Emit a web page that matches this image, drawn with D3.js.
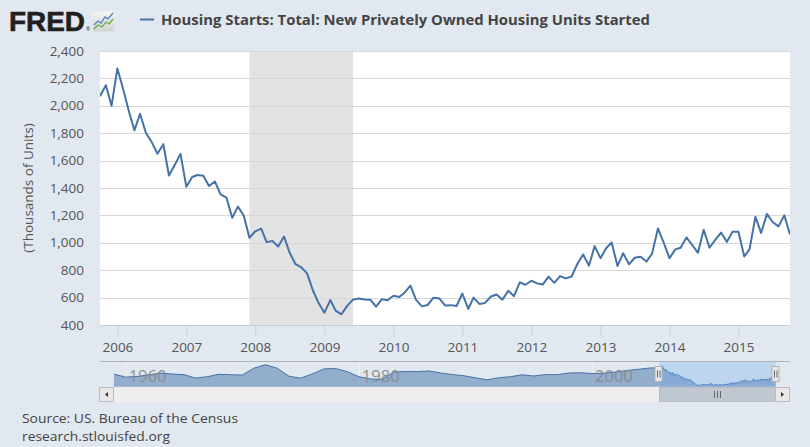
<!DOCTYPE html>
<html><head><meta charset="utf-8">
<script src="https://cdn.jsdelivr.net/npm/d3@7"></script>
<style>
body{margin:0;background:#e1e8f0;}
svg{display:block;font-family:"Open Sans",sans-serif;}
</style>
</head><body>
<svg id="c" width="810" height="447"></svg>
<script>
// ---------- data ----------
const seriesTitle = "Housing Starts: Total: New Privately Owned Housing Units Started";
const yAxisTitle = "(Thousands of Units)";
const firstMonth = "2005-10-01";
// monthly values, Oct 2005 .. Oct 2015 (thousands of units, SAAR)
const startsValues = [
  2070, 2150, 2000,
  2273, 2119, 1969, 1821, 1942, 1802, 1737, 1650, 1720, 1491, 1570, 1649,
  1409, 1480, 1495, 1490, 1415, 1448, 1354, 1330, 1183, 1264, 1197, 1037,
  1084, 1103, 1005, 1013, 973, 1046, 927, 844, 820, 777, 652, 560,
  490, 582, 505, 478, 540, 585, 594, 586, 585, 534, 588, 581,
  614, 604, 636, 687, 583, 536, 546, 599, 594, 543, 545, 539,
  630, 517, 600, 554, 561, 608, 623, 585, 650, 610, 711, 694,
  723, 704, 695, 753, 708, 757, 740, 754, 847, 915, 833, 976,
  888, 962, 1002, 831, 924, 843, 891, 898, 863, 921, 1105, 1003,
  888, 952, 964, 1039, 985, 927, 1095, 964, 1023, 1074, 1007, 1080,
  1080, 900, 954, 1190, 1072, 1211, 1152, 1120, 1200, 1060
];
const yTicks = [400, 600, 800, 1000, 1200, 1400, 1600, 1800, 2000, 2200, 2400];
const xTickYears = [2006, 2007, 2008, 2009, 2010, 2011, 2012, 2013, 2014, 2015];
const recessionStart = "2007-12-01";
const recessionEnd = "2009-06-01";
// navigator: annual values 1959..2005 then the monthly series above
const navYears = [1959,1960,1961,1962,1963,1964,1965,1966,1967,1968,1969,1970,1971,1972,1973,1974,1975,1976,1977,1978,1979,1980,1981,1982,1983,1984,1985,1986,1987,1988,1989,1990,1991,1992,1993,1994,1995,1996,1997,1998,1999,2000,2001,2002,2003,2004,2005];
const navAnnual = [1517,1252,1313,1463,1610,1529,1473,1165,1292,1508,1467,1434,2052,2357,2045,1338,1160,1538,1987,2020,1745,1292,1084,1062,1703,1750,1742,1805,1621,1488,1376,1193,1014,1200,1288,1457,1354,1477,1474,1617,1641,1569,1603,1705,1848,1956,2068];
const navTickYears = [1960, 1980, 2000];
const navSelStart = "2005-10-01";
const navSelEnd = "2015-10-01";
const sourceLines = ["Source: US. Bureau of the Census", "research.stlouisfed.org"];

// ---------- layout ----------
const svg = d3.select("#c");
const P = {l:100, r:790, t:51, b:325};
const parse = d3.timeParse("%Y-%m-%d");
const months = d3.timeMonth.range(parse(firstMonth), d3.timeMonth.offset(parse(firstMonth), startsValues.length));
const data = startsValues.map((v,i)=>({d:months[i], v}));

const x = d3.scaleTime().domain([data[0].d, data[data.length-1].d]).range([P.l, P.r]);
const y = d3.scaleLinear().domain([400, 2400]).range([P.b, P.t]);

// logo
svg.append("text").attr("x",9).attr("y",30.5).attr("font-family","'Liberation Sans',Arial,sans-serif")
  .attr("font-weight",900).attr("font-size",27.5).attr("fill","#231f20").attr("stroke","#231f20").attr("stroke-width",0.6)
  .attr("textLength",76).attr("lengthAdjust","spacingAndGlyphs").text("FRED");
svg.append("text").attr("x",86).attr("y",31).attr("font-size",5).attr("fill","#231f20").text("®");
const defs = svg.append("defs");
const lg = defs.append("linearGradient").attr("id","ig").attr("x1",0).attr("x2",0).attr("y1",0).attr("y2",1);
lg.append("stop").attr("offset","0").attr("stop-color","#f4f4f4");
lg.append("stop").attr("offset","1").attr("stop-color","#d2d2d2");
svg.append("rect").attr("x",92.5).attr("y",11.5).attr("width",22).attr("height",20).attr("rx",2).attr("fill","url(#ig)");
svg.append("polyline").attr("points","94,25 98,21 101,23 105,17 108,19 113,13").attr("fill","none").attr("stroke","#4f7fbf").attr("stroke-width",1.3);
svg.append("polyline").attr("points","94,29 98,25 102,27 106,22 109,24 113,19").attr("fill","none").attr("stroke","#6ab04c").attr("stroke-width",1.3);

// legend / title
svg.append("line").attr("x1",140).attr("x2",154).attr("y1",19.5).attr("y2",19.5).attr("stroke","#4572a7").attr("stroke-width",2);
svg.append("text").attr("x",161).attr("y",24.5).attr("font-size",14.8).attr("font-weight",700).attr("fill","#444")
  .attr("textLength",489).attr("lengthAdjust","spacingAndGlyphs").text(seriesTitle);

// plot background
svg.append("rect").attr("x",P.l).attr("y",P.t).attr("width",P.r-P.l).attr("height",P.b-P.t).attr("fill","#fff");
// recession
svg.append("rect").attr("x",x(parse(recessionStart))).attr("y",P.t)
  .attr("width",x(parse(recessionEnd))-x(parse(recessionStart))).attr("height",P.b-P.t).attr("fill","#e3e3e3");
// gridlines
svg.append("g").selectAll("line").data(yTicks.filter(t=>t>400)).join("line")
  .attr("x1",P.l).attr("x2",P.r).attr("y1",d=>Math.round(y(d))+0.5).attr("y2",d=>Math.round(y(d))+0.5)
  .attr("stroke","#d8d8d8").attr("stroke-width",1);
// y labels
svg.append("g").selectAll("text").data(yTicks).join("text")
  .attr("x",84).attr("y",d=>y(d)+4.5).attr("text-anchor","end").attr("font-size",13.5).attr("fill","#555")
  .text(d=>d3.format(",")(d));
svg.append("text").attr("transform","translate(33,188) rotate(-90)").attr("text-anchor","middle")
  .attr("font-size",13.5).attr("fill","#555").text(yAxisTitle);
// x axis
const xa = svg.append("g").attr("transform",`translate(0,${P.b+0.5})`)
  .call(d3.axisBottom(x).tickValues(xTickYears.map(yr=>new Date(yr,0,1))).tickSize(10).tickPadding(4).tickFormat(d3.timeFormat("%Y")));
xa.select(".domain").attr("stroke","#c0d0e0").attr("d",`M${P.l},0H${P.r}`);
xa.selectAll(".tick line").attr("stroke","#c0d0e0");
xa.selectAll(".tick text").attr("font-size",13.5).attr("fill","#555").attr("font-family","'Open Sans',sans-serif").attr("dy","0.9em");

// line
defs.append("clipPath").attr("id","pc").append("rect").attr("x",P.l).attr("y",P.t-5).attr("width",P.r-P.l).attr("height",P.b-P.t+5);
svg.append("path").datum(data).attr("clip-path","url(#pc)")
  .attr("d",d3.line().x(d=>x(d.d)).y(d=>y(d.v)))
  .attr("fill","none").attr("stroke","#4572a7").attr("stroke-width",2).attr("stroke-linejoin","round");

// ---------- navigator ----------
const N = {l:114, r:775.7, t:362, b:386.7};
const navData = navYears.map((yr,i)=>({d:new Date(yr,0,1), v:navAnnual[i]})).concat(data);
const xn = d3.scaleTime().domain([new Date(1959,0,1), data[data.length-1].d]).range([N.l, N.r]);
const yn = d3.scaleLinear().domain([400, 2600]).range([N.b, N.t]);
svg.append("line").attr("x1",100).attr("x2",790).attr("y1",361.5).attr("y2",361.5).attr("stroke","#b2b1b6");
// nav gridlines
svg.append("g").selectAll("line").data(navTickYears).join("line")
  .attr("x1",d=>Math.round(xn(new Date(d,0,1)))+0.5).attr("x2",d=>Math.round(xn(new Date(d,0,1)))+0.5)
  .attr("y1",362).attr("y2",N.b).attr("stroke","#edf0f4");
svg.append("path").datum(navData)
  .attr("d",d3.area().x(d=>xn(d.d)).y0(N.b).y1(d=>yn(d.v)))
  .attr("fill","rgba(69,114,167,0.5)").attr("stroke","none");
svg.append("path").datum(navData)
  .attr("d",d3.line().x(d=>xn(d.d)).y(d=>yn(d.v)))
  .attr("fill","none").attr("stroke","#4572a7").attr("stroke-width",1);
svg.append("g").selectAll("text").data(navTickYears).join("text")
  .attr("x",d=>xn(new Date(d,0,1))+3).attr("y",382).attr("font-size",16.5).attr("fill","#8a8a8a").attr("opacity",0.9)
  .text(d=>d);
const s0 = xn(parse(navSelStart)), s1 = xn(parse(navSelEnd));
svg.append("rect").attr("x",s0).attr("y",362).attr("width",s1-s0).attr("height",N.b-362).attr("fill","rgba(110,170,240,0.3)");
// handles
[s0, s1].forEach(hx=>{
  const g = svg.append("g").attr("transform",`translate(${Math.round(hx)-0.5},366.5)`);
  g.append("rect").attr("x",-3.5).attr("y",0).attr("width",7).attr("height",15).attr("fill","#ebe7e8").attr("stroke","#b2b1b6");
  g.append("line").attr("x1",-1).attr("x2",-1).attr("y1",4).attr("y2",11).attr("stroke","#666");
  g.append("line").attr("x1",1.5).attr("x2",1.5).attr("y1",4).attr("y2",11).attr("stroke","#666");
});
// scrollbar
svg.append("rect").attr("x",99.5).attr("y",387.5).attr("width",690).attr("height",14).attr("fill","#eeeeee").attr("stroke","#eeeeee");
svg.append("rect").attr("x",Math.round(s0)+0.5).attr("y",387.5).attr("width",Math.round(s1)-Math.round(s0)).attr("height",14)
  .attr("fill","#bfc8d1").attr("stroke","#bbb");
const gx = (s0+s1)/2;
[-3,0,3].forEach(o=>svg.append("line").attr("x1",Math.round(gx+o)+0.5).attr("x2",Math.round(gx+o)+0.5).attr("y1",391).attr("y2",398).attr("stroke","#666"));
// arrow buttons
svg.append("rect").attr("x",99.5).attr("y",387.5).attr("width",14).attr("height",14).attr("fill","#ebe7e8").attr("stroke","#bbb");
svg.append("path").attr("d","M105,394.5 L108,392 L108,397 Z").attr("fill","#333");
svg.append("rect").attr("x",775.5).attr("y",387.5).attr("width",14).attr("height",14).attr("fill","#ebe7e8").attr("stroke","#bbb");
svg.append("path").attr("d","M784,394.5 L781,392 L781,397 Z").attr("fill","#333");

// source lines
const srcWidths = [216, 148];
svg.append("g").selectAll("text").data(sourceLines).join("text")
  .attr("x",22).attr("y",(d,i)=>423.3+i*17.5).attr("font-size",12.8).attr("fill","#444")
  .attr("textLength",(d,i)=>srcWidths[i]).attr("lengthAdjust","spacingAndGlyphs").text(d=>d);
</script>
</body></html>
